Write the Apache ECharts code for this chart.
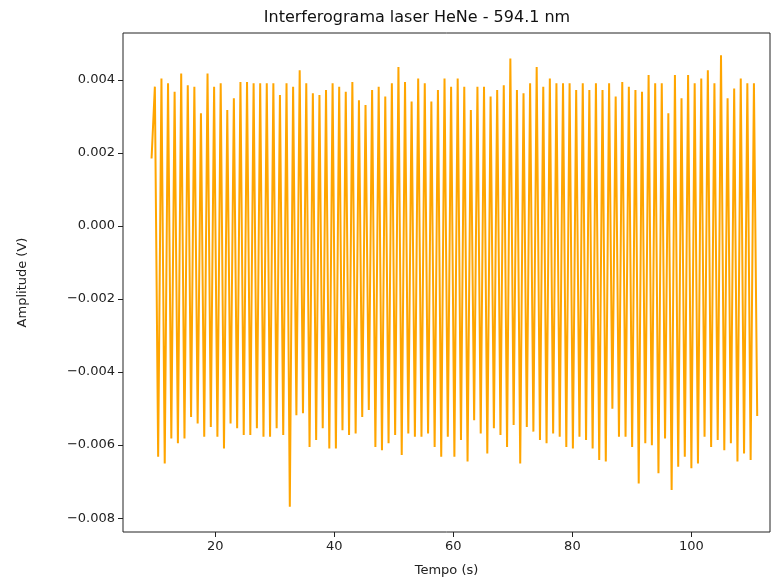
<!DOCTYPE html>
<html>
<head>
<meta charset="utf-8">
<script src="https://cdn.jsdelivr.net/npm/echarts@6/dist/echarts.min.js"></script>
<style>html,body{margin:0;padding:0;background:#fff}#main{width:783px;height:588px}</style>
</head>
<body>
<div id="main"></div>
<script>
// amplitudes, in mV
var peaksMv = [3.82,4.04,3.91,3.68,4.18,3.86,3.82,3.09,4.18,3.82,3.91,3.18,3.50,3.95,3.95,3.91,3.91,3.91,3.91,3.59,3.91,3.82,4.27,3.91,3.64,3.59,3.73,3.91,3.82,3.68,3.95,3.45,3.32,3.73,3.82,3.55,3.91,4.36,3.95,3.41,4.04,3.91,3.41,3.73,4.04,3.82,
	4.04,3.82,3.18,3.82,3.82,3.55,3.73,3.86,4.59,3.73,3.64,3.91,4.36,3.82,4.04,3.91,3.91,3.91,3.73,3.91,3.73,3.91,3.73,3.91,3.55,3.95,3.82,3.73,3.68,4.14,3.91,3.91,3.09,4.14,3.50,4.14,3.91,4.04,4.27,3.91,4.68,3.50,3.77,4.04,3.91,3.91];
var lowsMv = [-6.32,-6.50,-5.82,-5.95,-5.82,-5.23,-5.41,-5.77,-5.50,-5.77,-6.09,-5.41,-5.54,-5.72,-5.72,-5.54,-5.77,-5.77,-5.54,-5.72,-7.69,-5.18,-5.13,-6.05,-5.86,-5.54,-6.09,-6.09,-5.59,-5.72,-5.68,-5.23,-5.04,-6.05,-6.14,-5.95,-5.72,-6.27,-5.68,-5.77,-5.77,-5.68,-6.05,-6.32,-5.77,
	-6.32,-5.86,-6.45,-5.32,-5.68,-6.23,-5.54,-5.72,-6.05,-5.45,-6.50,-5.50,-5.63,-5.86,-5.95,-5.68,-5.77,-6.05,-6.09,-5.77,-5.86,-6.09,-6.41,-6.45,-5.00,-5.77,-5.77,-6.05,-7.05,-5.95,-6.00,-6.77,-5.82,-7.23,-6.59,-6.32,-6.63,-6.50,-5.77,-6.05,-5.86,-6.14,-5.95,-6.45,-6.23,-6.41];
var startMv = 1.85;
var endMv = -5.2;
var tStart = 9.3;
var tStep = 0.553;
var xTicks = [20,40,60,80,100];
var yTicks = [-0.008,-0.006,-0.004,-0.002,0,0.002,0.004];

var seq = [startMv];
for (var i = 0; i < peaksMv.length; i++) {
	seq.push(peaksMv[i]);
	if (i < lowsMv.length) seq.push(lowsMv[i]);
}
seq.push(endMv);
var data = seq.map(function (v, i) { return [tStart + i * tStep, v / 1000]; });

var txt = {color:'#222', fontFamily:'DejaVu Sans', fontSize:13};
var option = {
	animation: false,
	title: {text:'Interferograma laser HeNe - 594.1 nm', left:412, top:5, textAlign:'center',
		textStyle:{fontFamily:'DejaVu Sans', fontSize:16, fontWeight:'normal', color:'#111'}},
	grid: {left:123, right:13, top:33, bottom:56, show:true, borderColor:'#222', borderWidth:1},
	xAxis: {
		type:'value', min:4.5, max:113.2,
		name:'Tempo (s)', nameLocation:'middle', nameGap:32, nameTextStyle:txt,
		axisLine:{show:false, onZero:false}, splitLine:{show:false},
		axisTick:{show:true, inside:false, length:5, lineStyle:{color:'#222'}, customValues:xTicks},
		axisLabel:Object.assign({customValues:xTicks, margin:8}, txt)
	},
	yAxis: {
		type:'value', min:-0.00838, max:0.00529,
		name:'Amplitude (V)', nameLocation:'middle', nameGap:94, nameRotate:90, nameTextStyle:txt,
		axisLine:{show:false, onZero:false}, splitLine:{show:false},
		axisTick:{show:true, length:5, lineStyle:{color:'#222'}, customValues:yTicks},
		axisLabel:Object.assign({customValues:yTicks, margin:8,
			formatter:function (v) { return (v < 0 ? '\u2212' : '') + Math.abs(v).toFixed(3); }}, txt)
	},
	series: [{type:'line', data:data, showSymbol:false, lineStyle:{color:'#ffa500', width:2}}]
};
echarts.init(document.getElementById('main')).setOption(option);
</script>
</body>
</html>
